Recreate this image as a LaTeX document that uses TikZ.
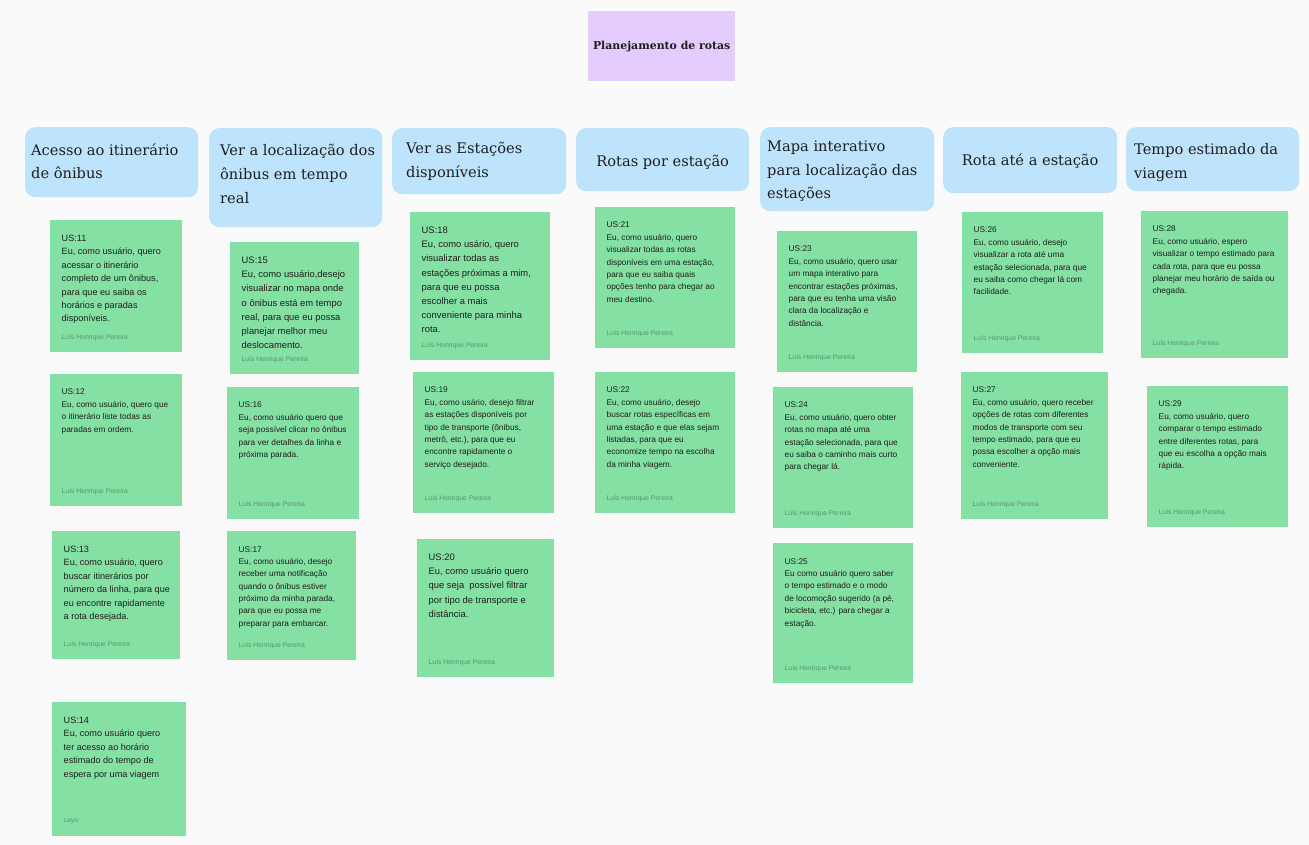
\documentclass[tikz,border=0pt]{standalone}
\usepackage{fontspec}
\usepackage{tikz}
\newfontfamily\headfont{DejaVu Serif}
\newfontfamily\notefont{Liberation Sans}
\definecolor{bgcol}{HTML}{FAFAFA}
\definecolor{titlecol}{HTML}{E4CCFF}
\definecolor{headcol}{HTML}{BEE3FD}
\definecolor{notecol}{HTML}{85E0A3}
\definecolor{textcol}{HTML}{1E1E1E}
\definecolor{authorcol}{HTML}{5A9470}
% one sticky note: name, corner, width, height, text size, text, author
\newcommand{\usnote}[7]{%
  \node[note, minimum width=#3pt, minimum height=#4pt] (#1) at (#2) {};
  \node[notetext, #5] (#1t) at ([shift={(11.5pt,-15pt)}]#1.north west) {#6};
  \node[noteauthor] (#1a) at ([shift={(11.5pt,15pt)}]#1.south west) {#7};
}

\begin{document}
\begin{tikzpicture}[x=1pt, y=-1pt]
        \tikzstyle{titlebox}=[rectangle, fill=titlecol, anchor=north west, inner sep=0pt]
        \tikzstyle{head}=[rectangle, rounded corners=10pt, fill=headcol, anchor=north west, inner sep=0pt]
        \tikzstyle{headtext}=[inner sep=0pt, align=left, text=textcol, font=\headfont\fontsize{14.6}{23.8}\selectfont]
        \tikzstyle{note}=[rectangle, fill=notecol, anchor=north west, inner sep=0pt]
        \tikzstyle{notetext}=[anchor=north west, inner sep=0pt, align=left, text=textcol, font=\notefont\fontsize{8.3}{12.4}\selectfont]
        \tikzstyle{medium}=[font=\notefont\fontsize{9.1}{13.4}\selectfont]
        \tikzstyle{large}=[font=\notefont\fontsize{9.4}{14.1}\selectfont]
        \tikzstyle{noteauthor}=[anchor=west, inner sep=0pt, text=authorcol, font=\notefont\fontsize{6.8}{8}\selectfont]

        \fill[bgcol] (0,0) rectangle (1309,845);
        \useasboundingbox (0,0) rectangle (1309,845);

        % title
        \node[titlebox, minimum width=147pt, minimum height=70pt] (title) at (588,11) {};
        \node[inner sep=0pt, text=textcol, font=\headfont\bfseries\fontsize{10.9}{12}\selectfont] (titlet) at (title.center) {Planejamento de rotas};

        % headers
        \node[head, minimum width=173pt, minimum height=70pt] (h1) at (25,127) {};
        \node[headtext, anchor=west] (h1t) at ([shift={(6pt,1pt)}]h1.west) {Acesso ao itinerário\\de ônibus};
        \node[head, minimum width=173pt, minimum height=99pt] (h2) at (209,128) {};
        \node[headtext, anchor=west] (h2t) at ([shift={(11pt,4pt)}]h2.west) {Ver a localização dos\\ônibus em tempo\\real};
        \node[head, minimum width=174pt, minimum height=66pt] (h3) at (392,128) {};
        \node[headtext, anchor=west] (h3t) at ([shift={(14pt,0pt)}]h3.west) {Ver as Estações\\disponíveis};
        \node[head, minimum width=173pt, minimum height=63pt] (h4) at (576,128) {};
        \node[headtext] (h4t) at ([yshift=-3pt]h4.center) {Rotas por estação};
        \node[head, minimum width=174pt, minimum height=84pt] (h5) at (760,127) {};
        \node[headtext, anchor=west] (h5t) at ([shift={(7pt,-2pt)}]h5.west) {Mapa interativo\\para localização das\\estações};
        \node[head, minimum width=174pt, minimum height=66pt] (h6) at (943,127) {};
        \node[headtext] (h6t) at ([yshift=-1pt]h6.center) {Rota até a estação};
        \node[head, minimum width=173pt, minimum height=64pt] (h7) at (1126,127) {};
        \node[headtext, anchor=west] (h7t) at ([shift={(8pt,-3pt)}]h7.west) {Tempo estimado da\\viagem};

        % column 1
        \usnote{us11}{50,220}{132}{132}{medium}{US:11\\Eu, como usuário, quero\\acessar o itinerário\\completo de um ônibus,\\para que eu saiba os\\horários e paradas\\disponíveis.}{Luís Henrique Pereira}
        \usnote{us12}{50,374}{132}{132}{}{US:12\\Eu, como usuário, quero que\\o itinerário liste todas as\\paradas em ordem.}{Luís Henrique Pereira}
        \usnote{us13}{52,531}{128}{128}{medium}{US:13\\Eu, como usuário, quero\\buscar itinerários por\\número da linha, para que\\eu encontre rapidamente\\a rota desejada.}{Luís Henrique Pereira}
        \usnote{us14}{52,702}{134}{134}{medium}{US:14\\Eu, como usuário quero\\ter acesso ao horário\\estimado do tempo de\\espera por uma viagem}{cayo}

        % column 2
        \usnote{us15}{230,242}{129}{132}{large}{US:15\\Eu, como usuário,desejo\\visualizar no mapa onde\\o ônibus está em tempo\\real, para que eu possa\\planejar melhor meu\\deslocamento.}{Luís Henrique Pereira}
        \usnote{us16}{227,387}{132}{132}{}{US:16\\Eu, como usuário quero que\\seja possível clicar no ônibus\\para ver detalhes da linha e\\próxima parada.}{Luís Henrique Pereira}
        \usnote{us17}{227,531}{129}{129}{}{US:17\\Eu, como usuário, desejo\\receber uma notificação\\quando o ônibus estiver\\próximo da minha parada,\\para que eu possa me\\preparar para embarcar.}{Luís Henrique Pereira}

        % column 3
        \usnote{us18}{410,212}{140}{148}{large}{US:18\\Eu, como usário, quero\\visualizar todas as\\estações próximas a mim,\\para que eu possa\\escolher a mais\\conveniente para minha\\rota.}{Luís Henrique Pereira}
        \usnote{us19}{413,372}{141}{141}{}{US:19\\Eu, como usário, desejo filtrar\\as estações disponíveis por\\tipo de transporte (ônibus,\\metrô, etc.), para que eu\\encontre rapidamente o\\serviço desejado.}{Luís Henrique Pereira}
        \usnote{us20}{417,539}{137}{138}{large}{US:20\\Eu, como usuário quero\\que seja\ \ possível filtrar\\por tipo de transporte e\\distância.}{Luís Henrique Pereira}

        % column 4
        \usnote{us21}{595,207}{140}{141}{}{US:21\\Eu, como usuário, quero\\visualizar todas as rotas\\disponíveis em uma estação,\\para que eu saiba quais\\opções tenho para chegar ao\\meu destino.}{Luís Henrique Pereira}
        \usnote{us22}{595,372}{140}{141}{}{US:22\\Eu, como usuário, desejo\\buscar rotas específicas em\\uma estação e que elas sejam\\listadas, para que eu\\economize tempo na escolha\\da minha viagem.}{Luís Henrique Pereira}

        % column 5
        \usnote{us23}{777,231}{140}{141}{}{US:23\\Eu, como usuário, quero usar\\um mapa interativo para\\encontrar estações próximas,\\para que eu tenha uma visão\\clara da localização e\\distância.}{Luís Henrique Pereira}
        \usnote{us24}{773,387}{140}{141}{}{US:24\\Eu, como usuário, quero obter\\rotas no mapa até uma\\estação selecionada, para que\\eu saiba o caminho mais curto\\para chegar lá.}{Luís Henrique Pereira}
        \usnote{us25}{773,543}{140}{140}{}{US:25\\Eu como usuário quero saber\\o tempo estimado e o modo\\de locomoção sugerido (a pé,\\bicicleta, etc.) para chegar a\\estação.}{Luís Henrique Pereira}

        % column 6
        \usnote{us26}{962,212}{141}{141}{}{US:26\\Eu, como usuário, desejo\\visualizar a rota até uma\\estação selecionada, para que\\eu saiba como chegar lá com\\facilidade.}{Luís Henrique Pereira}
        \usnote{us27}{961,372}{147}{147}{}{US:27\\Eu, como usuário, quero receber\\opções de rotas com diferentes\\modos de transporte com seu\\tempo estimado, para que eu\\possa escolher a opção mais\\conveniente.}{Luís Henrique Pereira}

        % column 7
        \usnote{us28}{1141,211}{147}{147}{}{US:28\\Eu, como usuário, espero\\visualizar o tempo estimado para\\cada rota, para que eu possa\\planejar meu horário de saída ou\\chegada.}{Luís Henrique Pereira}
        \usnote{us29}{1147,386}{141}{141}{}{US:29\\Eu, como usuário, quero\\comparar o tempo estimado\\entre diferentes rotas, para\\que eu escolha a opção mais\\rápida.}{Luís Henrique Pereira}
    \end{tikzpicture}
\end{document}
